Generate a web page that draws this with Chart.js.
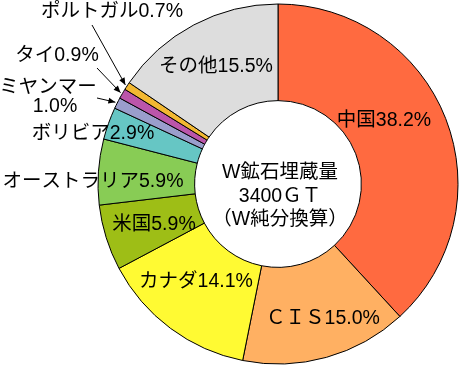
<!DOCTYPE html>
<html><head><meta charset="utf-8">
<script src="https://cdn.jsdelivr.net/npm/chart.js@4/dist/chart.umd.min.js"></script>
<style>html,body{margin:0;padding:0;background:#fff}#wrap{width:465px;height:372px}</style>
</head><body><div id="wrap"><canvas id="c" width="465" height="372"></canvas></div>
<script>
const categories = ["中国","ＣＩＳ","カナダ","米国","オーストラリア","ボリビア","ミヤンマー","タイ","ポルトガル","その他"];
const shares = [38.2, 15.0, 14.1, 5.9, 5.9, 2.9, 1.0, 0.9, 0.7, 15.5];
const colors = ["#FF6A40","#FFB062","#FFFA33","#9EBE16","#88CC55","#66C6C4","#9A9ECC","#BB55AA","#F2B832","#DDDDDD"];
const centerLines = ["W鉱石埋蔵量","3400ＧＴ","（W純分換算）"];

const FONT = '19.5px "Liberation Sans", "Noto Sans CJK JP", sans-serif';
// label layout: text lines with positions, optional arrow tail
const labelLayout = [
  {lines:[["中国38.2%",384,121]]},
  {lines:[["ＣＩＳ15.0%",323,319]]},
  {lines:[["カナダ14.1%",196,282]]},
  {lines:[["米国5.9%",154,225]]},
  {lines:[["オーストラリア5.9%",93,182]]},
  {lines:[["ボリビア2.9%",93,134]]},
  {lines:[["ミヤンマー",48,88],["1.0%",55,107]], tail:[97,98]},
  {lines:[["タイ0.9%",57,56]], tail:[97,68]},
  {lines:[["ポルトガル0.7%",112,12]], tail:[92,25]},
  {lines:[["その他15.5%",216,67]]}
];

const labelPlugin = {
  id:'labels',
  afterDraw(chart){
    const ctx = chart.ctx;
    const meta = chart.getDatasetMeta(0);
    ctx.save();
    ctx.font = FONT;
    ctx.fillStyle = '#000';
    ctx.textAlign = 'center';
    ctx.textBaseline = 'middle';
    labelLayout.forEach((L,i)=>{
      L.lines.forEach(([t,x,y])=>{ ctx.fillText(t, x, y); });
      if (L.tail){
        const arc = meta.data[i];
        const a = (arc.startAngle + arc.endAngle)/2;
        const r = arc.outerRadius + 2;
        const tx = arc.x + Math.cos(a)*r, ty = arc.y + Math.sin(a)*r;
        const [sx,sy] = L.tail;
        ctx.strokeStyle = '#000'; ctx.lineWidth = 1;
        ctx.beginPath(); ctx.moveTo(sx,sy); ctx.lineTo(tx,ty); ctx.stroke();
        const ang = Math.atan2(ty-sy, tx-sx);
        const hl = 7, hw = 3;
        ctx.beginPath();
        ctx.moveTo(tx,ty);
        ctx.lineTo(tx - hl*Math.cos(ang) + hw*Math.sin(ang), ty - hl*Math.sin(ang) - hw*Math.cos(ang));
        ctx.lineTo(tx - hl*Math.cos(ang) - hw*Math.sin(ang), ty - hl*Math.sin(ang) + hw*Math.cos(ang));
        ctx.closePath(); ctx.fillStyle='#000'; ctx.fill();
      }
    });
    const arc0 = meta.data[0];
    const cx = arc0.x, cy = arc0.y;
    ctx.fillStyle = '#000';
    ctx.fillText(centerLines[0], cx+2, cy-11);
    ctx.fillText(centerLines[1], cx+2, cy+13);
    ctx.fillText(centerLines[2], cx+2, cy+36);
    ctx.restore();
  }
};

new Chart(document.getElementById('c'), {
  type:'doughnut',
  data:{ labels:categories, datasets:[{ data:shares, backgroundColor:colors, borderColor:'#000', borderWidth:1, hoverOffset:0 }]},
  options:{
    responsive:false, animation:false,
    radius:180, cutout:85,
    layout:{ padding:{left:91, right:0, top:0, bottom:4} },
    plugins:{ legend:{display:false}, tooltip:{enabled:false} },
    events:[]
  },
  plugins:[labelPlugin]
});
</script>
</body></html>
